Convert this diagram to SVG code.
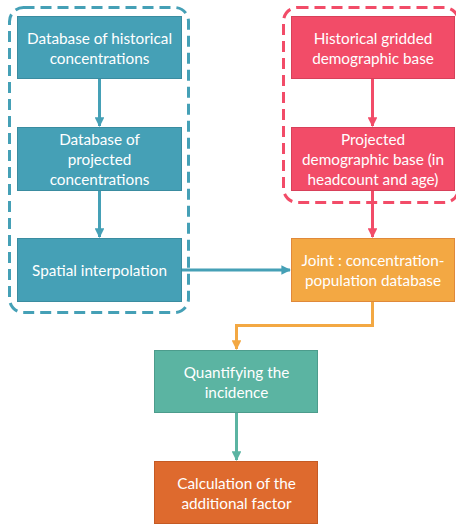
<svg xmlns="http://www.w3.org/2000/svg" width="456" height="525" viewBox="0 0 456 525">
  <defs>
    <style>
      .lbl { font-family: Lato, "Open Sans", sans-serif; font-size: 15.3px; fill: #FFFFFF; text-anchor: middle; dominant-baseline: central; }
      .blue { fill: #45A0B6; stroke: #3A8CA0; stroke-width: 1; }
      .red { fill: #F24C68; stroke: #D8405A; stroke-width: 1; }
      .orange { fill: #F3A843; stroke: #E0893A; stroke-width: 1; }
      .teal { fill: #5BB4A2; stroke: #4C9C8C; stroke-width: 1; }
      .rust { fill: #DE6A2E; stroke: #C55A24; stroke-width: 1; }
      .group-blue { fill: none; stroke: #45A0B6; stroke-width: 3; stroke-dasharray: 11 6; }
      .group-red { fill: none; stroke: #F24C68; stroke-width: 3; stroke-dasharray: 11 6; }
      .edge { fill: none; stroke-width: 3; }
    </style>
    <marker id="ah-blue" viewBox="0 0 10 10" refX="9" refY="5" markerWidth="3.2" markerHeight="3.2" orient="auto" markerUnits="strokeWidth">
      <path d="M0,0 L10,5 L0,10 z" fill="#45A0B6"/>
    </marker>
    <marker id="ah-red" viewBox="0 0 10 10" refX="9" refY="5" markerWidth="3.2" markerHeight="3.2" orient="auto" markerUnits="strokeWidth">
      <path d="M0,0 L10,5 L0,10 z" fill="#F24C68"/>
    </marker>
    <marker id="ah-orange" viewBox="0 0 10 10" refX="9" refY="5" markerWidth="3.2" markerHeight="3.2" orient="auto" markerUnits="strokeWidth">
      <path d="M0,0 L10,5 L0,10 z" fill="#F3A843"/>
    </marker>
    <marker id="ah-teal" viewBox="0 0 10 10" refX="9" refY="5" markerWidth="3.2" markerHeight="3.2" orient="auto" markerUnits="strokeWidth">
      <path d="M0,0 L10,5 L0,10 z" fill="#5BB4A2"/>
    </marker>
  </defs>

  <rect width="456" height="525" fill="#FFFFFF"/>

  <!-- dashed grouping frames -->
  <g id="groups">
    <rect class="group-blue" x="9.5" y="7.5" width="179" height="305" rx="14"/>
    <rect class="group-red" x="283.5" y="7.5" width="175" height="195" rx="14"/>
  </g>

  <!-- connectors -->
  <g id="connectors">
    <line class="edge" stroke="#45A0B6" x1="99.5" y1="79" x2="99.5" y2="126" marker-end="url(#ah-blue)"/>
    <line class="edge" stroke="#45A0B6" x1="99.5" y1="191" x2="99.5" y2="237" marker-end="url(#ah-blue)"/>
    <line class="edge" stroke="#45A0B6" x1="182" y1="270" x2="290" y2="270" marker-end="url(#ah-blue)"/>
    <line class="edge" stroke="#F24C68" x1="372.5" y1="79" x2="372.5" y2="126" marker-end="url(#ah-red)"/>
    <line class="edge" stroke="#F24C68" x1="372.5" y1="191" x2="372.5" y2="237" marker-end="url(#ah-red)"/>
    <polyline class="edge" stroke="#F3A843" points="372.5,302 372.5,325.5 236.5,325.5 236.5,349" marker-end="url(#ah-orange)"/>
    <line class="edge" stroke="#5BB4A2" x1="236.5" y1="413" x2="236.5" y2="460" marker-end="url(#ah-teal)"/>
  </g>

  <g id="node-hist-conc">
    <rect class="blue" x="17.5" y="16.5" width="164" height="62"/>
    <text class="lbl" x="99.5" y="38">Database of historical</text>
    <text class="lbl" x="99.5" y="58">concentrations</text>
  </g>

  <g id="node-proj-conc">
    <rect class="blue" x="17.5" y="127.5" width="164" height="63"/>
    <text class="lbl" x="99.5" y="139">Database of</text>
    <text class="lbl" x="99.5" y="159">projected</text>
    <text class="lbl" x="99.5" y="179">concentrations</text>
  </g>

  <g id="node-interp">
    <rect class="blue" x="17.5" y="238.5" width="164" height="63"/>
    <text class="lbl" x="99.5" y="270">Spatial interpolation</text>
  </g>

  <g id="node-hist-demo">
    <rect class="red" x="291.5" y="16.5" width="163" height="62"/>
    <text class="lbl" x="373" y="38">Historical gridded</text>
    <text class="lbl" x="373" y="58">demographic base</text>
  </g>

  <g id="node-proj-demo">
    <rect class="red" x="291.5" y="127.5" width="163" height="63"/>
    <text class="lbl" x="373" y="139">Projected</text>
    <text class="lbl" x="373" y="159">demographic base (in</text>
    <text class="lbl" x="373" y="179">headcount and age)</text>
  </g>

  <g id="node-joint">
    <rect class="orange" x="291.5" y="238.5" width="163" height="63"/>
    <text class="lbl" x="373" y="260">Joint : concentration-</text>
    <text class="lbl" x="373" y="280">population database</text>
  </g>

  <g id="node-incidence">
    <rect class="teal" x="154.5" y="350.5" width="163" height="62"/>
    <text class="lbl" x="236.5" y="372">Quantifying the</text>
    <text class="lbl" x="236.5" y="392">incidence</text>
  </g>

  <g id="node-factor">
    <rect class="rust" x="154.5" y="461.5" width="163" height="62"/>
    <text class="lbl" x="236.5" y="483">Calculation of the</text>
    <text class="lbl" x="236.5" y="503">additional factor</text>
  </g>
</svg>
